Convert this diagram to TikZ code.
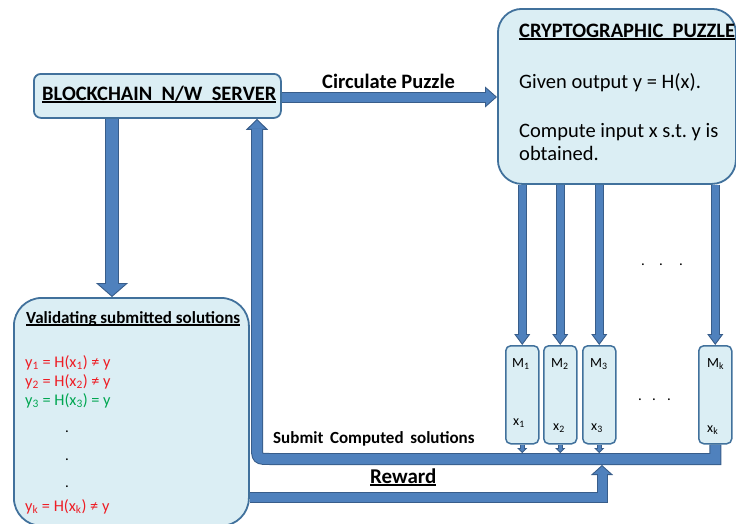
\documentclass[tikz,border=0pt]{standalone}
\usepackage{fontspec}
\setmainfont{Carlito}
\usetikzlibrary{arrows.meta,backgrounds}
\frenchspacing

\definecolor{panelfill}{HTML}{DBEEF4}
\definecolor{panelline}{HTML}{41719C}
\definecolor{arrfill}{HTML}{4F81BD}
\definecolor{arrline}{HTML}{385D8A}
\definecolor{wrongred}{HTML}{EE1D25}
\definecolor{okgreen}{HTML}{00A651}

% thick underline under a piece of text
\newsavebox\ulbox
\newcommand{\ulbar}[1]{\sbox\ulbox{#1}\rlap{\rule[-2.6pt]{\wd\ulbox}{1.3pt}}\usebox\ulbox}

% outlined block arrow: inner shaft, outer shaft, head width, head length, path
\newcommand{\blockarrow}[5]{%
  \draw[arrline, line width=#2, line join=miter,
        -{Triangle[width=#3, length=#4, fill=arrfill, line width=0.9pt]}] #5;
  \draw[arrfill, line width=#1, line join=miter, shorten >=#4-0.9pt] #5;
}

\tikzset{
  panel/.style={draw=panelline, line width=1.8pt, fill=panelfill, inner sep=0pt, anchor=north west},
  machine/.style={panel, rounded corners=5pt, line width=1.5pt, minimum width=33pt, minimum height=98pt},
  lbl/.style={anchor=base west, inner sep=0pt, text=black},
  bigbold/.style={lbl, font=\fontsize{20.5}{24}\selectfont\bfseries},
  bigtext/.style={lbl, font=\fontsize{20.5}{24}\selectfont},
  midbold/.style={lbl, font=\fontsize{17}{20}\selectfont\bfseries},
  smallbold/.style={lbl, font=\fontsize{17}{20}\selectfont\bfseries},
  eqn/.style={lbl, font=\fontsize{16.3}{19}\selectfont},
  mlabel/.style={lbl, font=\fontsize{14}{17}\selectfont},
  dot/.style={anchor=base, inner sep=0pt, font=\fontsize{15}{18}\selectfont},
}

\begin{document}
\begin{tikzpicture}[x=1pt,y=-1pt]
\useasboundingbox (0,0) rectangle (736,523);

% boxes
\node[panel, rounded corners=7pt, minimum width=247pt, minimum height=44pt] (server) at (33,73) {};
\node[panel, rounded corners=24pt, minimum width=238pt, minimum height=175pt] (puzzle) at (497,8) {};
\node[panel, rounded corners=28pt, minimum width=235pt, minimum height=228pt] (validate) at (13,297) {};
\node[machine] (m1) at (505,345) {};
\node[machine] (m2) at (543,345) {};
\node[machine] (m3) at (582,345) {};
\node[machine] (mk) at (698,345) {};

% box texts
\node[bigbold] (servertitle) at (42,100) {\ulbar{BLOCKCHAIN\ \ N/W\ \ SERVER}};
\node[bigbold] (puzzletitle) at (519,37) {\ulbar{CRYPTOGRAPHIC\ \ PUZZLE}};
\node[bigtext] (given) at (519,88) {Given output y = H(x).};
\node[bigtext] (compute) at (519,137) {Compute input x s.t. y is};
\node[bigtext] (obtained) at (519,160) {obtained.};

\node[smallbold] (valtitle) at (26,323) {\ulbar{Validating submitted solutions}};
\node[eqn, text=wrongred] (eq1) at (25,367) {y\textsubscript{1} = H(x\textsubscript{1}) ≠ y};
\node[eqn, text=wrongred] (eq2) at (25,386) {y\textsubscript{2} = H(x\textsubscript{2}) ≠ y};
\node[eqn, text=okgreen] (eq3) at (25,405) {y\textsubscript{3} = H(x\textsubscript{3}) = y};
\node[eqn, text=wrongred] (eqk) at (25,511) {y\textsubscript{k} = H(x\textsubscript{k}) ≠ y};

\node[mlabel] (m1top) at (512,367) {M\textsubscript{1}};
\node[mlabel] (m2top) at (551,367) {M\textsubscript{2}};
\node[mlabel] (m3top) at (590,367) {M\textsubscript{3}};
\node[mlabel] (mktop) at (707,367) {M\textsubscript{k}};
\node[mlabel] (m1bot) at (513,425) {x\textsubscript{1}};
\node[mlabel] (m2bot) at (553,430) {x\textsubscript{2}};
\node[mlabel] (m3bot) at (591,430) {x\textsubscript{3}};
\node[mlabel] (mkbot) at (707,432) {x\textsubscript{k}};

\foreach \n/\x/\y in {1/67/432, 2/67/460, 3/67/487, 4/643/265, 5/661/265, 6/681/265, 7/640/400, 8/654/400, 9/669/400}
  \node[dot] (dot\n) at (\x,\y) {.};

% connector labels
\node[bigbold] (circlabel) at (322,88) {Circulate Puzzle};
\node[midbold] (submitlabel) at (273,443) {Submit\ \,Computed\ \,solutions};
\node[bigbold, font=\fontsize{21}{24}\selectfont\bfseries] (rewardlabel) at (370,483) {\ulbar{Reward}};

% routing points
\coordinate (downx) at (112,0);
\coordinate (upx) at (257,0);
\coordinate (circy) at (0,97);
\coordinate (bustop) at (0,453);
\coordinate (busy) at (0,459);
\coordinate (busbottom) at (0,465);
\coordinate (busc1) at (271,459);
\coordinate (busc) at (257,459);
\coordinate (busc2) at (257,445);
\coordinate (rewy) at (0,497);
\coordinate (rewx) at (602,0);

\begin{pgfonlayer}{background}
  \blockarrow{12pt}{14pt}{32pt}{14pt}{(server.south -| downx) -- (validate.north -| downx)}
  \blockarrow{9pt}{11pt}{21pt}{12pt}{(server.east |- circy) -- (puzzle.west |- circy)}
  \foreach \m in {m1,m2,m3,mk}{
    \blockarrow{7pt}{9pt}{16pt}{11pt}{(puzzle.south -| \m.north) -- (\m.north)}
  }
  \foreach \m in {m1,m2,m3}{
    \blockarrow{3pt}{4.6pt}{10pt}{5pt}{(\m.south) -- (\m.south |- bustop)}
  }
  \blockarrow{10pt}{12pt}{22pt}{11pt}{(mk.south) -- (mk.south |- busy) -- (busc1) .. controls (busc) .. (busc2) -- (server.south -| upx)}
  \blockarrow{9pt}{11pt}{22pt}{10pt}{(validate.east |- rewy) -- (rewx |- rewy) -- (rewx |- busbottom)}
\end{pgfonlayer}
\end{tikzpicture}
\end{document}
